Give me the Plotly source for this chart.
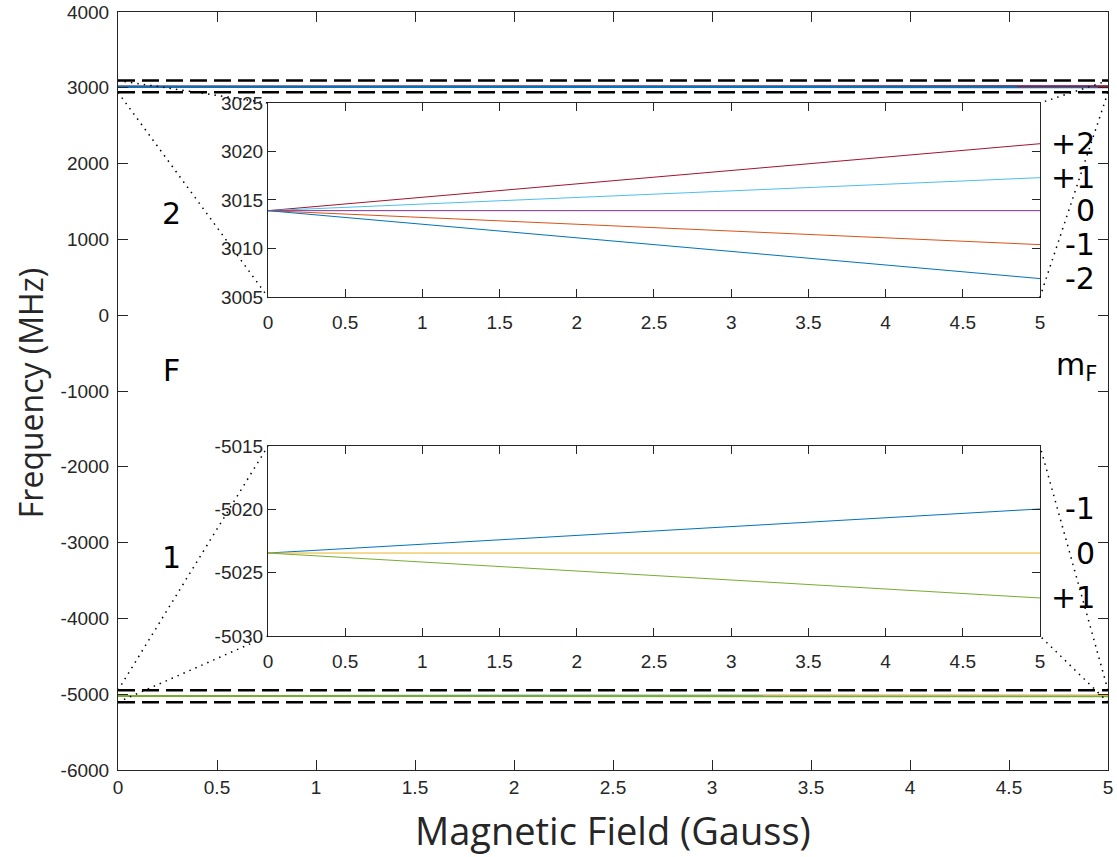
import plotly.graph_objects as go

# ---------------- data ----------------
field_gauss = [0, 5]

# F = 2 manifold (MHz)
f2_mf_labels = ["+2", "+1", "0", "-1", "-2"]
f2_p2 = [3013.9, 3020.8]
f2_p1 = [3013.9, 3017.3]
f2_0 = [3013.9, 3013.9]
f2_m1 = [3013.9, 3010.4]
f2_m2 = [3013.9, 3006.9]
f2_series = [f2_p2, f2_p1, f2_0, f2_m1, f2_m2]
f2_colors = ["#A2142F", "#4DBEEE", "#7E2F8E", "#D95319", "#0072BD"]
f2_main_order = [3, 2, 1, 0, 4]   # drawing order in the overview panel

# F = 1 manifold (MHz)
f1_mf_labels = ["-1", "0", "+1"]
f1_m1 = [-5023.45, -5019.97]
f1_0 = [-5023.45, -5023.45]
f1_p1 = [-5023.45, -5027.0]
f1_series = [f1_m1, f1_0, f1_p1]
f1_colors = ["#0072BD", "#EDB120", "#77AC30"]

# dashed marker lines (MHz)
f2_band = [3095, 2940]
f1_band = [-4948, -5105]

# ranges and ticks
main_x_range = [0, 5]
main_y_range = [-6000, 4000]
x_ticks = [0, 0.5, 1, 1.5, 2, 2.5, 3, 3.5, 4, 4.5, 5]
x_ticktext = ["0", "0.5", "1", "1.5", "2", "2.5", "3", "3.5", "4", "4.5", "5"]
main_y_ticks = [-6000, -5000, -4000, -3000, -2000, -1000, 0, 1000, 2000, 3000, 4000]
main_y_ticktext = ["-6000", "-5000", "-4000", "-3000", "-2000", "-1000", "0",
                   "1000", "2000", "3000", "4000"]
f2_y_range = [3005, 3025]
f2_y_ticks = [3005, 3010, 3015, 3020, 3025]
f1_y_range = [-5030, -5015]
f1_y_ticks = [-5030, -5025, -5020, -5015]
f1_y_ticktext = ["-5030", "-5025", "-5020", "-5015"]

# ---------------- layout geometry ----------------
W, H = 1117, 857
ML, MR, MT, MB = 118, 9, 12, 87
inset_x = [0.1515, 0.9313]
inset2_y = [0.624, 0.880]
inset1_y = [0.1768, 0.4274]

fig = go.Figure()

# main lines
for i in f2_main_order:
    fig.add_trace(go.Scatter(x=field_gauss, y=f2_series[i], mode="lines",
                             line=dict(color=f2_colors[i], width=2), showlegend=False,
                             xaxis="x", yaxis="y"))
for ys, c in zip(f1_series, f1_colors):
    fig.add_trace(go.Scatter(x=field_gauss, y=ys, mode="lines",
                             line=dict(color=c, width=2), showlegend=False,
                             xaxis="x", yaxis="y"))
# dashed band lines
for v in f2_band + f1_band:
    fig.add_trace(go.Scatter(x=main_x_range, y=[v, v], mode="lines",
                             line=dict(color="black", width=2.5, dash="17px,7px"),
                             showlegend=False, xaxis="x", yaxis="y"))

# inset lines
for ys, c in zip(f2_series, f2_colors):
    fig.add_trace(go.Scatter(x=field_gauss, y=ys, mode="lines",
                             line=dict(color=c, width=1), showlegend=False,
                             xaxis="x2", yaxis="y2"))
for ys, c in zip(f1_series, f1_colors):
    fig.add_trace(go.Scatter(x=field_gauss, y=ys, mode="lines",
                             line=dict(color=c, width=1), showlegend=False,
                             xaxis="x3", yaxis="y3"))

# connectors (dotted), main data -> paper
def py(v):
    return (v - main_y_range[0]) / (main_y_range[1] - main_y_range[0])

dot = dict(color="black", width=1.5, dash="1.5px,5px")
for band, iy in [(f2_band, inset2_y), (f1_band, inset1_y)]:
    fig.add_shape(type="line", xref="paper", yref="paper", x0=0, y0=py(band[0]),
                  x1=inset_x[0], y1=iy[1], line=dot)
    fig.add_shape(type="line", xref="paper", yref="paper", x0=0, y0=py(band[1]),
                  x1=inset_x[0], y1=iy[0], line=dot)
    fig.add_shape(type="line", xref="paper", yref="paper", x0=1, y0=py(band[0]),
                  x1=inset_x[1], y1=iy[1], line=dot)
    fig.add_shape(type="line", xref="paper", yref="paper", x0=1, y0=py(band[1]),
                  x1=inset_x[1], y1=iy[0], line=dot)

lab_font = dict(family="DejaVu Sans", size=30, color="black")
# F labels
fig.add_annotation(x=0.27, y=1348, text="2", xref="x", yref="y", showarrow=False, font=lab_font)
fig.add_annotation(x=0.27, y=-723, text="F", xref="x", yref="y", showarrow=False, font=lab_font)
fig.add_annotation(x=0.27, y=-3190, text="1", xref="x", yref="y", showarrow=False, font=lab_font)
fig.add_annotation(x=0.991, y=-680, text="m<sub>F</sub>", xref="paper", yref="y",
                   xanchor="right", showarrow=False, font=lab_font)
# mF labels (at the inset's B = 5 values)
for lbl, ys in zip(f2_mf_labels, f2_series):
    fig.add_annotation(x=0.989, y=ys[-1], text=lbl, xref="paper", yref="y2",
                       xanchor="right", showarrow=False, font=lab_font)
for lbl, ys in zip(f1_mf_labels, f1_series):
    fig.add_annotation(x=0.989, y=ys[-1], text=lbl, xref="paper", yref="y3",
                       xanchor="right", showarrow=False, font=lab_font)

# axis titles
fig.add_annotation(x=-0.089, y=0.497, xref="paper", yref="paper", text="Frequency (MHz)",
                   textangle=-90, showarrow=False, xanchor="center", yanchor="middle",
                   font=dict(family="Open Sans", size=32, color="#262626"))
fig.add_annotation(x=0.5, y=-0.079, xref="paper", yref="paper", text="Magnetic Field (Gauss)",
                   showarrow=False, xanchor="center", yanchor="middle",
                   font=dict(family="Open Sans", size=38, color="#262626"))

tick_font = dict(family="Liberation Sans", size=19, color="#262626")
axcol = "#262626"
common = dict(showline=True, linecolor=axcol, linewidth=1, mirror="ticks",
              ticks="inside", tickcolor=axcol, showgrid=False, zeroline=False,
              tickfont=tick_font, automargin=False)

fig.update_layout(
    width=W, height=H,
    margin=dict(l=ML, r=MR, t=MT, b=MB),
    plot_bgcolor="white", paper_bgcolor="white",
    xaxis=dict(domain=[0, 1], range=main_x_range, tickvals=x_ticks, ticktext=x_ticktext,
               ticklen=10, anchor="y", **common),
    yaxis=dict(domain=[0, 1], range=main_y_range, tickvals=main_y_ticks,
               ticktext=main_y_ticktext, ticklen=10, anchor="x", ticklabelstandoff=4,
               **common),
    xaxis2=dict(domain=inset_x, range=main_x_range, tickvals=x_ticks, ticktext=x_ticktext,
                ticklen=8, anchor="y2", ticklabelstandoff=8, **common),
    yaxis2=dict(domain=inset2_y, range=f2_y_range, tickvals=f2_y_ticks, ticklen=8,
                anchor="x2", **common),
    xaxis3=dict(domain=inset_x, range=main_x_range, tickvals=x_ticks, ticktext=x_ticktext,
                ticklen=8, anchor="y3", ticklabelstandoff=8, **common),
    yaxis3=dict(domain=inset1_y, range=f1_y_range, tickvals=f1_y_ticks,
                ticktext=f1_y_ticktext, ticklen=8, anchor="x3", **common),
)

fig.write_html("out.html")
